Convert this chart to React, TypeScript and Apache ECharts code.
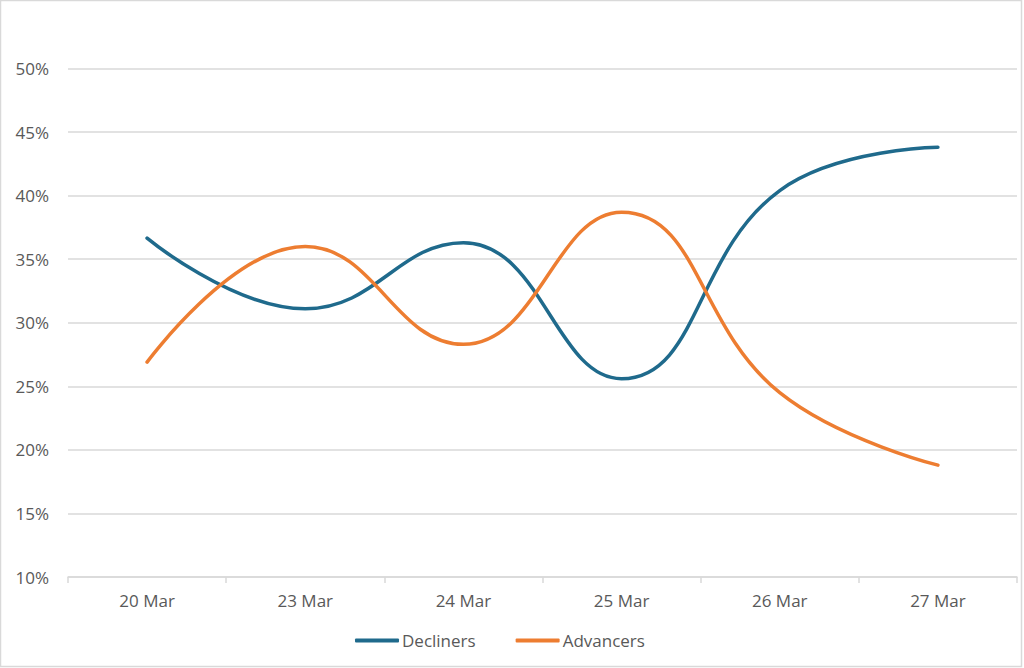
import React, { useEffect, useRef } from "react";
import * as echarts from "echarts";

const categories = ["20 Mar", "23 Mar", "24 Mar", "25 Mar", "26 Mar", "27 Mar"];
const decliners = [36.65, 31.1, 36.3, 25.6, 40.4, 43.8];
const advancers = [26.9, 36.0, 28.3, 38.7, 24.5, 18.8];
const yTicks = { min: 10, max: 50, interval: 5 };

export default function App() {
  const ref = useRef<HTMLDivElement>(null);
  useEffect(() => {
    document.body.style.margin = "0";
    const chart = echarts.init(ref.current!, null, { renderer: "svg" });
    const font = "'Open Sans', sans-serif";
    chart.setOption({
      animation: false,
      backgroundColor: "#ffffff",
      graphic: [
        {
          type: "rect",
          shape: { x: 0.5, y: 0.5, width: 1021, height: 666 },
          style: { fill: "none", stroke: "#d9d9d9", lineWidth: 1.5 },
          silent: true,
          z: 0,
        },
      ],
      grid: { left: 68, right: 7, top: 68.5, bottom: 91, containLabel: false },
      legend: {
        bottom: 14,
        left: 350,
        itemWidth: 44,
        itemHeight: 4,
        itemGap: 40,
        icon: "roundRect",
        textStyle: { fontFamily: font, fontSize: 17, color: "#595959", padding: [0, 0, 0, -2] },
        data: ["Decliners", "Advancers"],
      },
      xAxis: {
        type: "category",
        data: categories,
        boundaryGap: true,
        axisLine: { lineStyle: { color: "#d9d9d9", width: 1.5 } },
        axisTick: { show: true, length: 6, lineStyle: { color: "#d9d9d9", width: 1.5 } },
        axisLabel: { fontFamily: font, fontSize: 17, color: "#595959", margin: 15 },
      },
      yAxis: {
        type: "value",
        min: yTicks.min,
        max: yTicks.max,
        interval: yTicks.interval,
        axisLine: { show: false },
        axisTick: { show: false },
        splitLine: { lineStyle: { color: "#d9d9d9", width: 1.5 } },
        axisLabel: { fontFamily: font, fontSize: 17, color: "#595959", margin: 19, formatter: "{value}%" },
      },
      series: [
        {
          name: "Decliners",
          type: "line",
          data: decliners,
          smooth: 0.45,
          symbol: "none",
          lineStyle: { color: "#1f6a8c", width: 3.5, cap: "round" },
          itemStyle: { color: "#1f6a8c" },
        },
        {
          name: "Advancers",
          type: "line",
          data: advancers,
          smooth: 0.45,
          symbol: "none",
          lineStyle: { color: "#ed7d31", width: 3.5, cap: "round" },
          itemStyle: { color: "#ed7d31" },
        },
      ],
    });
    return () => chart.dispose();
  }, []);
  return <div ref={ref} style={{ width: 1024, height: 668 }} />;
}
